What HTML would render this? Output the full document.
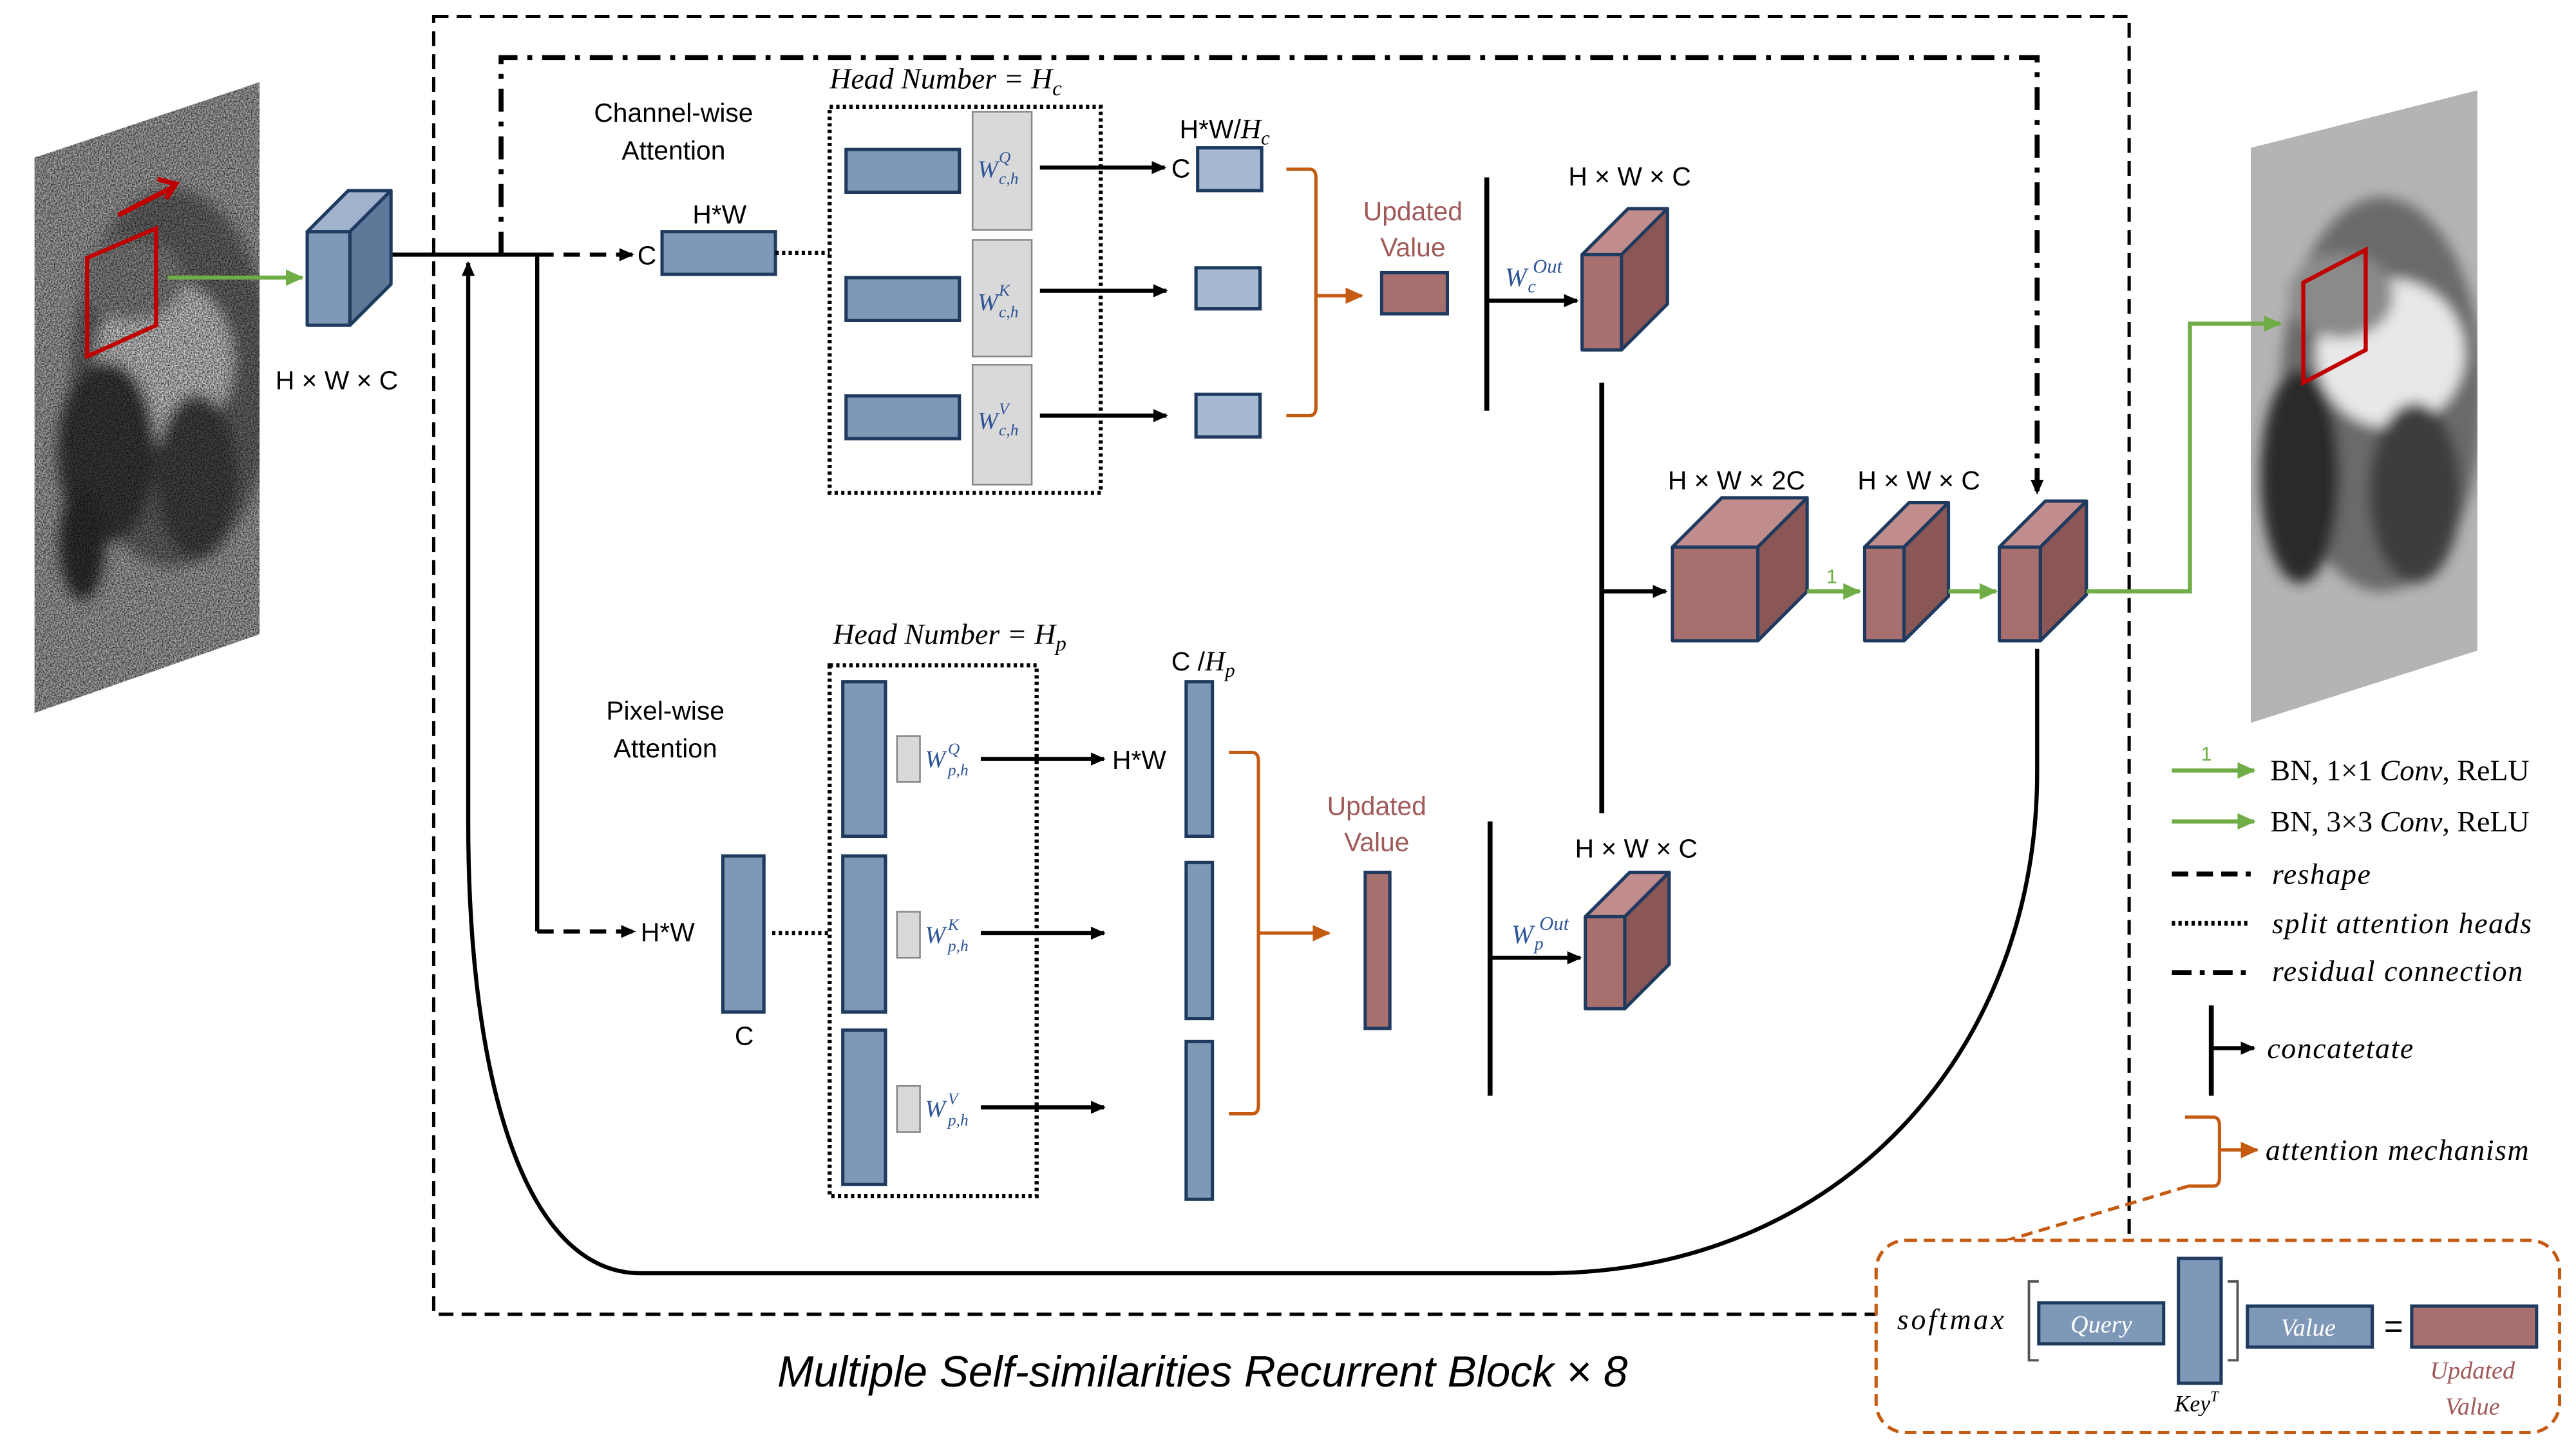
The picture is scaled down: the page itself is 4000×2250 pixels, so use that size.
<!DOCTYPE html>
<html><head><meta charset="utf-8"><style>
html,body{margin:0;padding:0;background:#fff;}
svg{display:block;}
.s{font-family:"Liberation Sans",sans-serif;}
.m{font-family:"Liberation Serif",serif;font-style:italic;}
</style></head><body>
<svg width="4000" height="2250" viewBox="0 0 1568 882" xmlns="http://www.w3.org/2000/svg">
<defs>
<marker id="ak" markerWidth="10" markerHeight="10" refX="8" refY="5" orient="auto" markerUnits="userSpaceOnUse"><path d="M0,1 L9,5 L0,9 z" fill="#000"/></marker>
<marker id="ag" markerWidth="12" markerHeight="12" refX="10" refY="6" orient="auto" markerUnits="userSpaceOnUse"><path d="M0,1 L11,6 L0,11 z" fill="#70ad47"/></marker>
<marker id="ao" markerWidth="12" markerHeight="12" refX="10" refY="6" orient="auto" markerUnits="userSpaceOnUse"><path d="M0,1 L11,6 L0,11 z" fill="#c55a11"/></marker>
<filter id="noise" x="0" y="0" width="1" height="1"><feTurbulence type="fractalNoise" baseFrequency="1.2" numOctaves="1" seed="3"/><feColorMatrix type="matrix" values="0 0 0 0 0  0 0 0 0 0  0 0 0 0 0  1.6 0 0 0 -0.5"/></filter>
<filter id="blur"><feGaussianBlur stdDeviation="4"/></filter>
<clipPath id="c1"><polygon points="21,96 158,50 158,386 21,434"/></clipPath>
<clipPath id="c2"><polygon points="1370,90 1508,55 1508,396 1370,440"/></clipPath>
</defs>

<!-- left noisy parrot -->
<g clip-path="url(#c1)">
<rect x="0" y="40" width="170" height="400" fill="#a8a8a8"/>
<g filter="url(#blur)">
<ellipse cx="105" cy="230" rx="62" ry="115" fill="#6a6a6a"/>
<ellipse cx="100" cy="220" rx="42" ry="50" fill="#d0d0d0"/>
<ellipse cx="80" cy="170" rx="32" ry="25" fill="#8a8a8a"/>
<ellipse cx="65" cy="275" rx="30" ry="55" fill="#3a3a3a"/>
<ellipse cx="120" cy="290" rx="25" ry="50" fill="#444"/>
<ellipse cx="50" cy="330" rx="14" ry="35" fill="#303030"/>
</g>
<rect x="0" y="40" width="170" height="400" fill="#fff" filter="url(#noise)"/>
</g>
<polygon points="53,157 95,139 95,198 53,217" fill="none" stroke="#c00000" stroke-width="2.5"/>
<line x1="72" y1="131" x2="105" y2="114" stroke="#c00000" stroke-width="3"/>
<path d="M96,109 L107,112 L101,121" fill="none" stroke="#c00000" stroke-width="3"/>
<line x1="102" y1="169" x2="184" y2="169" stroke="#70ad47" stroke-width="2.5" marker-end="url(#ag)"/>

<!-- right parrot -->
<g clip-path="url(#c2)">
<rect x="1360" y="50" width="160" height="400" fill="#b4b4b4"/>
<g filter="url(#blur)">
<ellipse cx="1450" cy="240" rx="62" ry="120" fill="#6a6a6a"/>
<ellipse cx="1455" cy="215" rx="45" ry="45" fill="#e8e8e8"/>
<ellipse cx="1425" cy="180" rx="32" ry="26" fill="#8a8a8a"/>
<ellipse cx="1400" cy="290" rx="24" ry="65" fill="#2a2a2a"/>
<ellipse cx="1470" cy="300" rx="28" ry="55" fill="#3c3c3c"/>
</g>
</g>
<polygon points="1402,172 1440,152 1440,213 1402,233" fill="none" stroke="#c00000" stroke-width="2.5"/>

<!-- outer dashed box -->
<rect x="264" y="10" width="1032" height="790" fill="none" stroke="#000" stroke-width="2" stroke-dasharray="9,5"/>
<!-- dash dot residual -->
<path d="M305,155 V35 H1240 V300" fill="none" stroke="#000" stroke-width="3" stroke-dasharray="14,6,3,6" marker-end="url(#ak)"/>

<!-- main trunk -->
<line x1="238" y1="155" x2="327" y2="155" stroke="#000" stroke-width="2.5"/>
<line x1="327" y1="155" x2="385" y2="155" stroke="#000" stroke-width="2.5" stroke-dasharray="10,6" marker-end="url(#ak)"/>
<text x="388" y="161" class="s" font-size="16">C</text>
<rect x="403" y="141" width="69" height="26" fill="#7f98b7" stroke="#1f3a5f" stroke-width="2"/>
<text x="438" y="136" class="s" font-size="16" text-anchor="middle">H*W</text>
<line x1="472" y1="154" x2="505" y2="154" stroke="#000" stroke-width="2.5" stroke-dasharray="2,2"/>
<line x1="327" y1="155" x2="327" y2="567" stroke="#000" stroke-width="2.5"/>
<line x1="327" y1="567" x2="386" y2="567" stroke="#000" stroke-width="2.5" stroke-dasharray="10,6" marker-end="url(#ak)"/>
<text x="390" y="573" class="s" font-size="16">H*W</text>
<rect x="440" y="521" width="25" height="95" fill="#7f98b7" stroke="#1f3a5f" stroke-width="2"/>
<text x="453" y="636" class="s" font-size="16" text-anchor="middle">C</text>
<line x1="470" y1="568" x2="505" y2="568" stroke="#000" stroke-width="2.5" stroke-dasharray="2,2"/>

<!-- recurrent loop -->
<path d="M1240,395 V470 C1240,640 1120,775 940,775 H390 C320,775 285,660 285,500 V160" fill="none" stroke="#000" stroke-width="2.5" marker-end="url(#ak)"/>

<text x="410" y="74" class="s" font-size="16" text-anchor="middle">Channel-wise</text>
<text x="410" y="97" class="s" font-size="16" text-anchor="middle">Attention</text>
<text x="405" y="438" class="s" font-size="16" text-anchor="middle">Pixel-wise</text>
<text x="405" y="461" class="s" font-size="16" text-anchor="middle">Attention</text>

<!-- channel head box -->
<text x="505" y="54" class="m" font-size="18">Head Number = H<tspan font-size="13" dy="4">c</tspan></text>
<rect x="505" y="65" width="165" height="235" fill="none" stroke="#000" stroke-width="2.5" stroke-dasharray="2,2"/>
<g fill="#7f98b7" stroke="#1f3a5f" stroke-width="2">
<rect x="515" y="91" width="69" height="26"/><rect x="515" y="169" width="69" height="26"/><rect x="515" y="241" width="69" height="26"/>
</g>
<g fill="#d9d9d9" stroke="#888" stroke-width="1">
<rect x="592" y="68" width="36" height="72"/><rect x="592" y="146" width="36" height="71"/><rect x="592" y="222" width="36" height="73"/>
</g>
<g class="m" fill="#2f5597">
<text x="595" y="108" font-size="15">W</text><text x="608" y="99" font-size="10">Q</text><text x="608" y="112" font-size="10">c,h</text>
<text x="595" y="189" font-size="15">W</text><text x="608" y="180" font-size="10">K</text><text x="608" y="193" font-size="10">c,h</text>
<text x="595" y="261" font-size="15">W</text><text x="608" y="252" font-size="10">V</text><text x="608" y="265" font-size="10">c,h</text>
</g>
<g stroke="#000" stroke-width="2.5">
<line x1="633" y1="102" x2="709" y2="102" marker-end="url(#ak)"/>
<line x1="633" y1="177" x2="710" y2="177" marker-end="url(#ak)"/>
<line x1="633" y1="253" x2="710" y2="253" marker-end="url(#ak)"/>
</g>
<text x="713" y="108" class="s" font-size="16">C</text>
<text x="718" y="84" class="s" font-size="16">H*W/<tspan class="m" font-size="17">H</tspan><tspan class="m" font-size="12" dy="4">c</tspan></text>
<g fill="#a6b8d2" stroke="#1f3a5f" stroke-width="2">
<rect x="729" y="90" width="39" height="26"/><rect x="728" y="163" width="39" height="25"/><rect x="728" y="240" width="39" height="26"/>
</g>
<path d="M783,103 H797 Q801,103 801,108 V248 Q801,253 797,253 H783" fill="none" stroke="#c55a11" stroke-width="2"/>
<line x1="801" y1="180" x2="829" y2="180" stroke="#c55a11" stroke-width="2" marker-end="url(#ao)"/>
<text x="860" y="134" class="s" font-size="16" fill="#a05a5a" text-anchor="middle">Updated</text>
<text x="860" y="156" class="s" font-size="16" fill="#a05a5a" text-anchor="middle">Value</text>
<rect x="841" y="166" width="40" height="25" fill="#a86f6f" stroke="#1f3a5f" stroke-width="2"/>
<line x1="905" y1="108" x2="905" y2="250" stroke="#000" stroke-width="3"/>
<line x1="905" y1="183" x2="960" y2="183" stroke="#000" stroke-width="2.5" marker-end="url(#ak)"/>
<g class="m" fill="#2f5597">
<text x="916" y="174" font-size="16">W</text><text x="933" y="166" font-size="12">Out</text><text x="930" y="178" font-size="11">c</text>
</g>
<text x="992" y="113" class="s" font-size="16" text-anchor="middle">H × W × C</text>

<!-- cubes -->
<g stroke="#1f3a5f" stroke-width="2" stroke-linejoin="round">
<rect x="187" y="141" width="26" height="57" fill="#7f98b7"/>
<polygon points="187,141 212,116 238,116 213,141" fill="#a1b3cc"/>
<polygon points="213,141 238,116 238,173 213,198" fill="#5f7799"/>

<rect x="963" y="155" width="24" height="58" fill="#a86f6f"/>
<polygon points="963,155 991,127 1015,127 987,155" fill="#c08c8c"/>
<polygon points="987,155 1015,127 1015,185 987,213" fill="#8a5656"/>

<rect x="1018" y="333" width="52" height="57" fill="#a86f6f"/>
<polygon points="1018,333 1048,303 1100,303 1070,333" fill="#c08c8c"/>
<polygon points="1070,333 1100,303 1100,360 1070,390" fill="#8a5656"/>

<rect x="1135" y="333" width="24" height="57" fill="#a86f6f"/>
<polygon points="1135,333 1162,306 1186,306 1159,333" fill="#c08c8c"/>
<polygon points="1159,333 1186,306 1186,363 1159,390" fill="#8a5656"/>

<rect x="1217" y="333" width="25" height="57" fill="#a86f6f"/>
<polygon points="1217,333 1245,305 1270,305 1242,333" fill="#c08c8c"/>
<polygon points="1242,333 1270,305 1270,362 1242,390" fill="#8a5656"/>

<rect x="965" y="558" width="24" height="56" fill="#a86f6f"/>
<polygon points="965,558 992,531 1016,531 989,558" fill="#c08c8c"/>
<polygon points="989,558 1016,531 1016,587 989,614" fill="#8a5656"/>
</g>
<text x="205" y="237" class="s" font-size="16" text-anchor="middle">H × W × C</text>

<!-- merge -->
<line x1="975" y1="233" x2="975" y2="495" stroke="#000" stroke-width="3"/>
<line x1="975" y1="360" x2="1014" y2="360" stroke="#000" stroke-width="2.5" marker-end="url(#ak)"/>
<text x="1057" y="298" class="s" font-size="16" text-anchor="middle">H × W × 2C</text>
<text x="1168" y="298" class="s" font-size="16" text-anchor="middle">H × W × C</text>
<line x1="1100" y1="360" x2="1132" y2="360" stroke="#70ad47" stroke-width="2.5" marker-end="url(#ag)"/>
<text x="1115" y="355" class="s" font-size="12" fill="#70ad47" text-anchor="middle">1</text>
<line x1="1186" y1="360" x2="1215" y2="360" stroke="#70ad47" stroke-width="2.5" marker-end="url(#ag)"/>
<path d="M1270,360 H1333 V197 H1388" fill="none" stroke="#70ad47" stroke-width="2.5" marker-end="url(#ag)"/>

<!-- pixel head box -->
<text x="507" y="392" class="m" font-size="18">Head Number = H<tspan font-size="13" dy="4">p</tspan></text>
<rect x="505" y="405" width="126" height="323" fill="none" stroke="#000" stroke-width="2.5" stroke-dasharray="2,2"/>
<g fill="#7f98b7" stroke="#1f3a5f" stroke-width="2">
<rect x="513" y="415" width="26" height="94"/><rect x="513" y="521" width="26" height="95"/><rect x="513" y="627" width="26" height="94"/>
</g>
<g fill="#d9d9d9" stroke="#888" stroke-width="1">
<rect x="546" y="448" width="14" height="28"/><rect x="546" y="555" width="14" height="28"/><rect x="546" y="661" width="14" height="28"/>
</g>
<g class="m" fill="#2f5597">
<text x="563" y="467" font-size="15">W</text><text x="577" y="459" font-size="10">Q</text><text x="577" y="472" font-size="10">p,h</text>
<text x="563" y="574" font-size="15">W</text><text x="577" y="566" font-size="10">K</text><text x="577" y="579" font-size="10">p,h</text>
<text x="563" y="680" font-size="15">W</text><text x="577" y="672" font-size="10">V</text><text x="577" y="685" font-size="10">p,h</text>
</g>
<g stroke="#000" stroke-width="2.5">
<line x1="597" y1="462" x2="672" y2="462" marker-end="url(#ak)"/>
<line x1="597" y1="568" x2="672" y2="568" marker-end="url(#ak)"/>
<line x1="597" y1="674" x2="672" y2="674" marker-end="url(#ak)"/>
</g>
<text x="677" y="468" class="s" font-size="16">H*W</text>
<text x="713" y="408" class="s" font-size="16">C /<tspan class="m" font-size="17">H</tspan><tspan class="m" font-size="12" dy="4">p</tspan></text>
<g fill="#7f98b7" stroke="#1f3a5f" stroke-width="2">
<rect x="722" y="415" width="16" height="94"/><rect x="722" y="525" width="16" height="95"/><rect x="722" y="634" width="16" height="96"/>
</g>
<path d="M748,458 H762 Q766,458 766,463 V673 Q766,678 762,678 H748" fill="none" stroke="#c55a11" stroke-width="2"/>
<line x1="766" y1="568" x2="809" y2="568" stroke="#c55a11" stroke-width="2" marker-end="url(#ao)"/>
<text x="838" y="496" class="s" font-size="16" fill="#a05a5a" text-anchor="middle">Updated</text>
<text x="838" y="518" class="s" font-size="16" fill="#a05a5a" text-anchor="middle">Value</text>
<rect x="831" y="531" width="15" height="95" fill="#a86f6f" stroke="#1f3a5f" stroke-width="2"/>
<line x1="907" y1="500" x2="907" y2="667" stroke="#000" stroke-width="3"/>
<line x1="907" y1="583" x2="962" y2="583" stroke="#000" stroke-width="2.5" marker-end="url(#ak)"/>
<g class="m" fill="#2f5597">
<text x="920" y="574" font-size="16">W</text><text x="937" y="566" font-size="12">Out</text><text x="934" y="578" font-size="11">p</text>
</g>
<text x="996" y="522" class="s" font-size="16" text-anchor="middle">H × W × C</text>

<text x="732" y="844" class="s" font-style="italic" font-size="26.5" text-anchor="middle">Multiple Self-similarities Recurrent Block × 8</text>

<!-- legend -->
<line x1="1322" y1="469" x2="1372" y2="469" stroke="#70ad47" stroke-width="2.5" marker-end="url(#ag)"/>
<text x="1343" y="463" class="s" font-size="12" fill="#70ad47" text-anchor="middle">1</text>
<line x1="1322" y1="500" x2="1372" y2="500" stroke="#70ad47" stroke-width="2.5" marker-end="url(#ag)"/>
<text x="1382" y="475" font-family="Liberation Serif,serif" font-size="18">BN, 1×1 <tspan font-style="italic">Conv</tspan>, ReLU</text>
<text x="1382" y="506" font-family="Liberation Serif,serif" font-size="18">BN, 3×3 <tspan font-style="italic">Conv</tspan>, ReLU</text>
<line x1="1322" y1="532" x2="1370" y2="532" stroke="#000" stroke-width="3" stroke-dasharray="10,5"/>
<line x1="1322" y1="562" x2="1370" y2="562" stroke="#000" stroke-width="3" stroke-dasharray="2,2"/>
<line x1="1322" y1="592" x2="1370" y2="592" stroke="#000" stroke-width="3" stroke-dasharray="12,5,3,5"/>
<text x="1383" y="538" class="m" font-size="18" letter-spacing="0.6">reshape</text>
<text x="1383" y="568" class="m" font-size="18" letter-spacing="0.6">split attention heads</text>
<text x="1383" y="597" class="m" font-size="18" letter-spacing="0.6">residual connection</text>
<line x1="1346" y1="612" x2="1346" y2="667" stroke="#000" stroke-width="3"/>
<line x1="1346" y1="638" x2="1372" y2="638" stroke="#000" stroke-width="2.5" marker-end="url(#ak)"/>
<text x="1380" y="644" class="m" font-size="18" letter-spacing="0.6">concatetate</text>
<path d="M1330,680 H1347 Q1351,680 1351,685 V717 Q1351,722 1347,722 H1332" fill="none" stroke="#c55a11" stroke-width="2"/>
<line x1="1351" y1="700" x2="1374" y2="700" stroke="#c55a11" stroke-width="2" marker-end="url(#ao)"/>
<text x="1379" y="706" class="m" font-size="18" letter-spacing="0.6">attention mechanism</text>
<line x1="1332" y1="722" x2="1215" y2="757" stroke="#c55a11" stroke-width="2" stroke-dasharray="7,4"/>

<rect x="1142" y="755" width="416" height="117" rx="18" fill="#fff" stroke="#c55a11" stroke-width="2" stroke-dasharray="7,4"/>
<text x="1188" y="809" class="m" font-size="18" letter-spacing="1.5" text-anchor="middle">softmax</text>
<path d="M1241,780 H1235 V828 H1241" fill="none" stroke="#555" stroke-width="1.5"/>
<rect x="1241" y="793" width="76" height="25" fill="#7f98b7" stroke="#1f3a5f" stroke-width="2"/>
<text x="1279" y="811" class="m" font-size="15" fill="#fff" text-anchor="middle">Query</text>
<rect x="1326" y="766" width="26" height="76" fill="#7f98b7" stroke="#1f3a5f" stroke-width="2"/>
<text x="1337" y="859" class="m" font-size="14" text-anchor="middle">Key<tspan font-size="9" dy="-6">T</tspan></text>
<path d="M1356,780 H1362 V828 H1356" fill="none" stroke="#555" stroke-width="1.5"/>
<rect x="1368" y="795" width="76" height="25" fill="#7f98b7" stroke="#1f3a5f" stroke-width="2"/>
<text x="1405" y="813" class="m" font-size="15" fill="#fff" text-anchor="middle">Value</text>
<text x="1457" y="814" class="s" font-size="20" text-anchor="middle">=</text>
<rect x="1468" y="795" width="76" height="25" fill="#a86f6f" stroke="#1f3a5f" stroke-width="2"/>
<text x="1505" y="839" class="m" font-size="15" fill="#a05a5a" text-anchor="middle">Updated</text>
<text x="1505" y="861" class="m" font-size="15" fill="#a05a5a" text-anchor="middle">Value</text>
</svg>
</body></html>
